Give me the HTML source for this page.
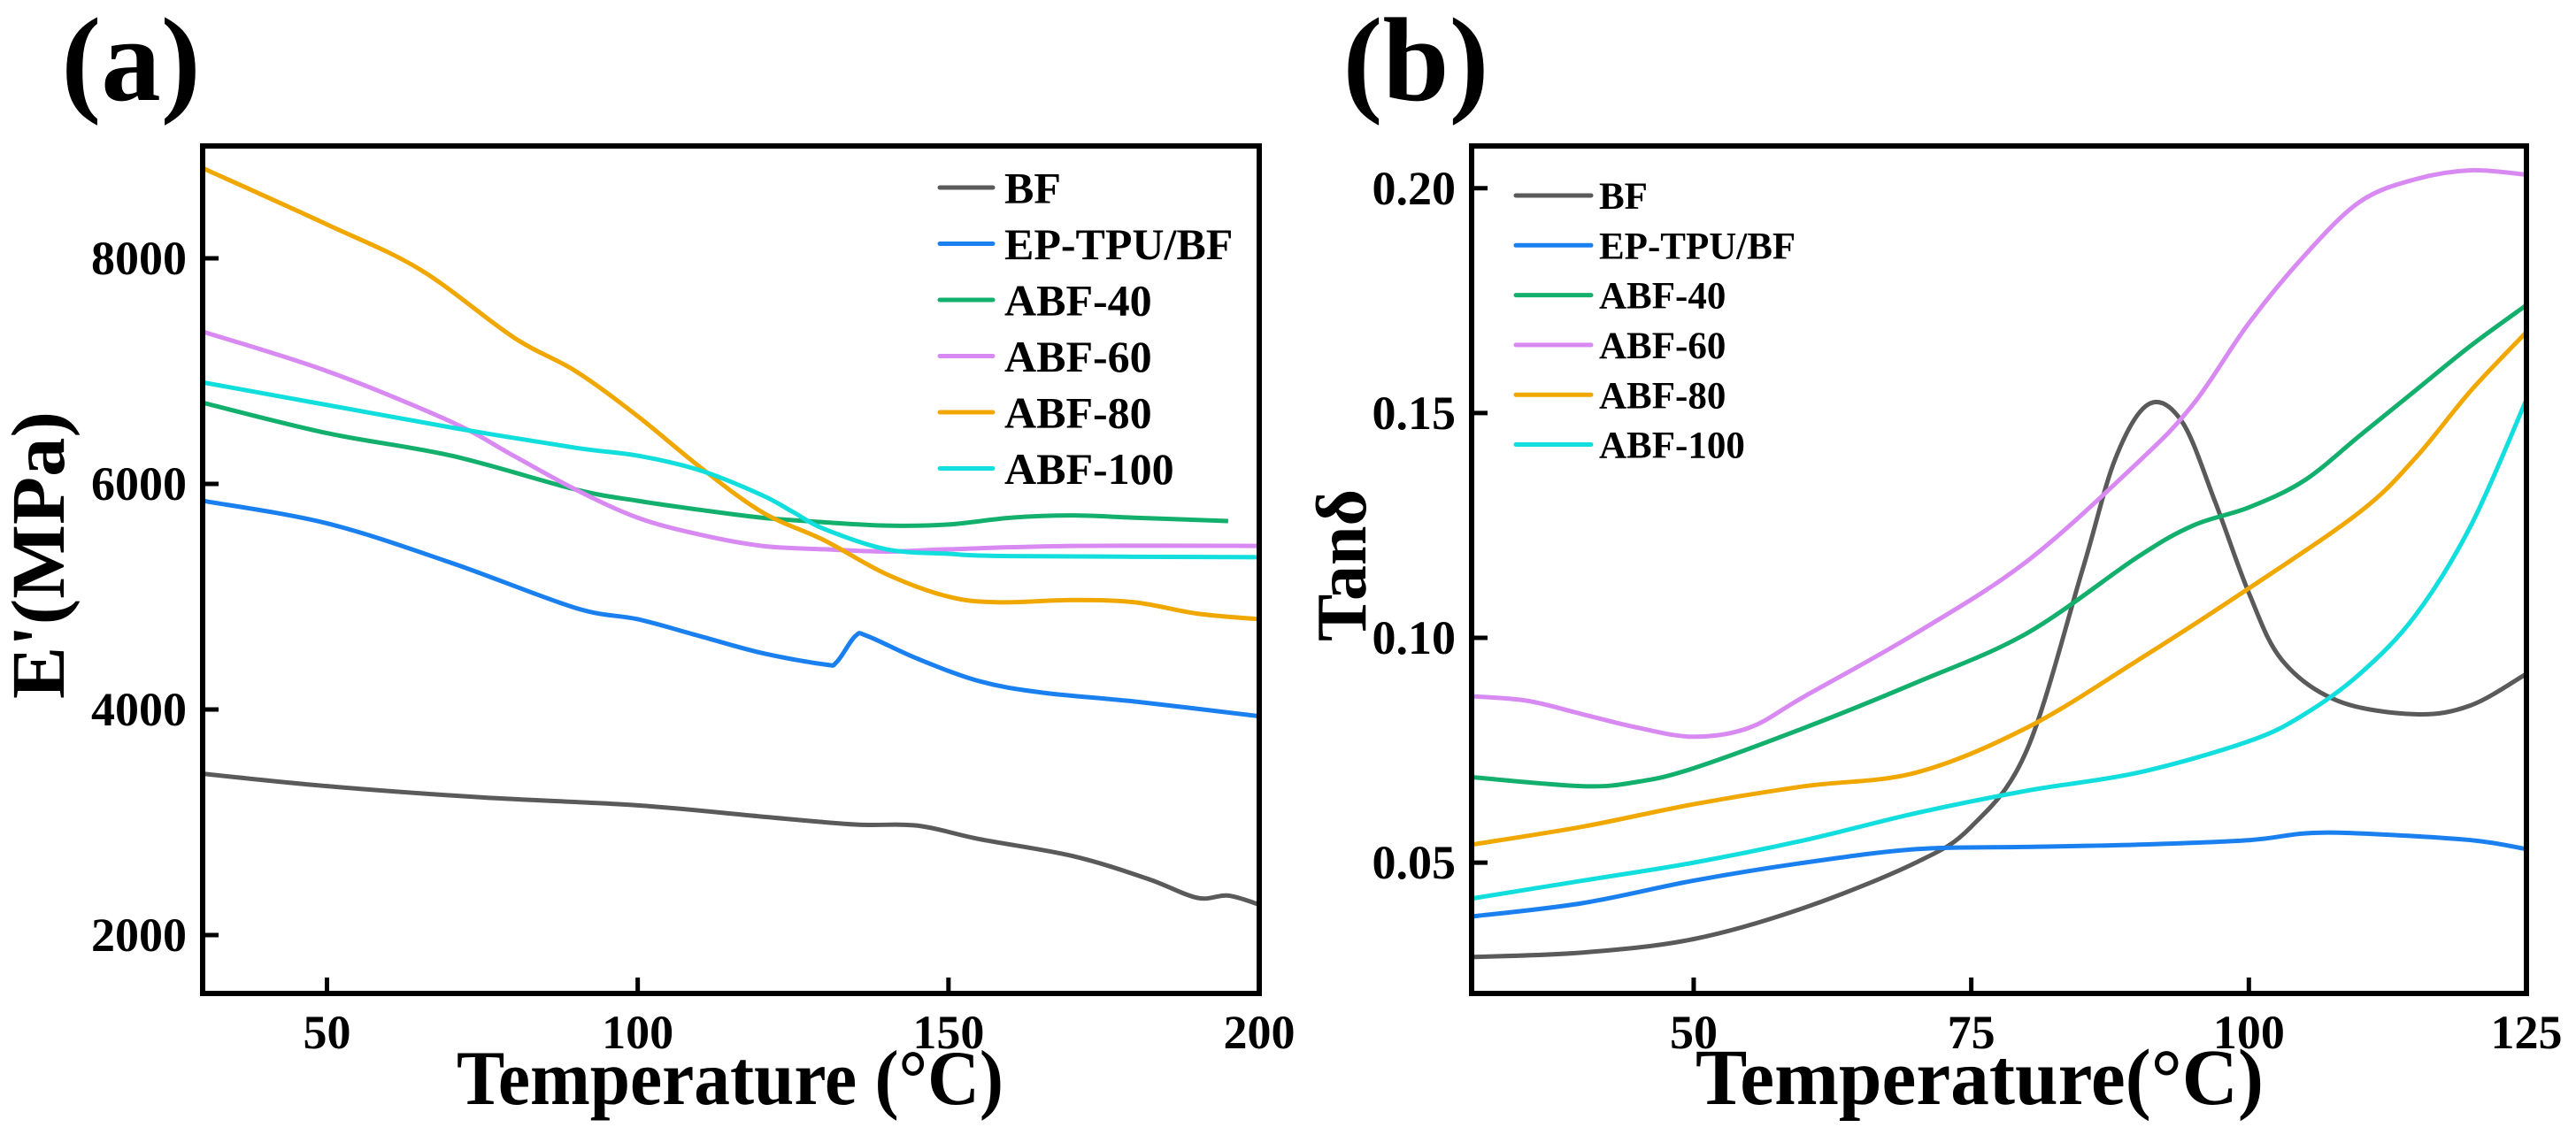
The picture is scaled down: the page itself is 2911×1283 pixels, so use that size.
<!DOCTYPE html>
<html><head><meta charset="utf-8"><style>
html,body{margin:0;padding:0;background:#fff;}
svg{display:block;font-family:"Liberation Serif",serif;font-weight:bold;}
</style></head><body>
<svg id="fig" width="2911" height="1283" viewBox="0 0 2911 1283" xmlns="http://www.w3.org/2000/svg">
<text x="148" y="113" font-size="135" text-anchor="middle">(a)</text>
<text x="1600" y="113" font-size="135" text-anchor="middle">(b)</text>
<text x="516" y="1248" font-size="88" textLength="618" lengthAdjust="spacingAndGlyphs">Temperature (°C)</text>
<text x="1916" y="1248" font-size="90" textLength="642" lengthAdjust="spacingAndGlyphs">Temperature(°C)</text>
<text transform="translate(72,790) rotate(-90)" font-size="86" textLength="325" lengthAdjust="spacingAndGlyphs">E'(MPa)</text>
<text transform="translate(1543,725) rotate(-90)" font-size="80">Tanδ</text>
<g id="ga"></g>
<g id="gb"></g>
</svg>
<script>
const names = ["BF","EP-TPU/BF","ABF-40","ABF-60","ABF-80","ABF-100"];
const colors = ["#5a5a5a","#1a80f0","#12b06c","#d88af2","#f0a800","#12dede"];
// Panel (a) storage modulus
const aX_BF = [30,50,75,100,120,135,145,155,170,182,190,195,200];
const aY_BF = [3430,3320,3220,3150,3050,2980,2970,2850,2700,2500,2330,2350,2270];
const aX_EP = [30,50,70,90,100,110,120,130,132,135,137,145,155,165,180,200];
const aY_EP = [5850,5650,5300,4900,4800,4650,4500,4400,4420,4650,4650,4450,4250,4150,4070,3940];
const aX_40 = [30,50,70,90,100,110,120,130,140,150,160,170,180,195];
const aY_40 = [6720,6450,6250,5950,5850,5770,5700,5660,5630,5640,5700,5720,5700,5670];
const aX_60 = [30,50,70,80,90,100,110,120,130,140,150,170,200];
const aY_60 = [7350,7000,6550,6250,5950,5700,5550,5450,5420,5400,5420,5450,5450];
const aX_80 = [30,50,65,80,90,100,110,120,130,140,150,158,170,180,190,200];
const aY_80 = [8800,8300,7900,7300,7000,6600,6150,5750,5500,5200,5000,4950,4970,4950,4850,4800];
const aX_100 = [30,50,70,90,100,110,120,125,130,140,150,160,200];
const aY_100 = [6900,6700,6500,6320,6250,6120,5900,5750,5600,5420,5380,5360,5350];
const aTicksX = [50,100,150,200];
const aTicksY = [2000,4000,6000,8000];
// Panel (b) tan delta
const bX_BF = [30,40,50,60,70,75,80,85,88,91,94,97,100,103,108,115,120,125];
const bY_BF = [0.029,0.030,0.033,0.040,0.050,0.058,0.075,0.115,0.140,0.152,0.148,0.130,0.110,0.095,0.086,0.083,0.085,0.092];
const bX_EP = [30,40,50,60,70,80,90,100,105,110,120,125];
const bY_EP = [0.038,0.041,0.046,0.050,0.053,0.0535,0.054,0.055,0.0565,0.0565,0.055,0.053];
const bX_40 = [30,40,45,50,60,70,80,90,95,100,105,110,115,120,125];
const bY_40 = [0.069,0.067,0.068,0.071,0.080,0.090,0.101,0.118,0.125,0.129,0.135,0.145,0.155,0.165,0.174];
const bX_60 = [30,35,40,45,50,55,60,70,80,90,95,100,105,110,115,120,125];
const bY_60 = [0.087,0.086,0.083,0.080,0.078,0.080,0.087,0.101,0.117,0.139,0.152,0.170,0.185,0.197,0.202,0.204,0.203];
const bX_80 = [30,40,50,60,70,80,90,100,110,115,120,125];
const bY_80 = [0.054,0.058,0.063,0.067,0.070,0.080,0.095,0.111,0.128,0.140,0.155,0.168];
const bX_100 = [30,40,50,60,70,80,90,100,105,110,115,120,125];
const bY_100 = [0.042,0.046,0.050,0.055,0.061,0.066,0.070,0.077,0.083,0.092,0.105,0.125,0.153];
const bTicksX = [50,75,100,125];
const bTicksY = [0.05,0.10,0.15,0.20];

const NS = "http://www.w3.org/2000/svg";
function mk(tag, attrs, parent){const e=document.createElementNS(NS,tag);for(const k in attrs)e.setAttribute(k,attrs[k]);parent.appendChild(e);return e;}
function smooth(pts){let d="M"+pts[0][0]+","+pts[0][1];for(let i=0;i<pts.length-1;i++){const p0=pts[Math.max(i-1,0)],p1=pts[i],p2=pts[i+1],p3=pts[Math.min(i+2,pts.length-1)];const c1=[p1[0]+(p2[0]-p0[0])/6,p1[1]+(p2[1]-p0[1])/6],c2=[p2[0]-(p3[0]-p1[0])/6,p2[1]-(p3[1]-p1[1])/6];d+=" C"+c1[0]+","+c1[1]+" "+c2[0]+","+c2[1]+" "+p2[0]+","+p2[1];}return d;}

function panel(g, L, R, T, B, xmin, xmax, ymin, ymax, xs, ys, tx, ty, fmt, leg, pfx){
  const sx=v=>L+(v-xmin)/(xmax-xmin)*(R-L), sy=v=>B-(v-ymin)/(ymax-ymin)*(B-T);
  for(let s=0;s<xs.length;s++){
    const p=mk("path",{d:smooth(xs[s].map((x,i)=>[sx(x),sy(ys[s][i])])),fill:"none",stroke:colors[s],"stroke-width":5,"stroke-linejoin":"round"},g);
    
    
  }
  const fr=mk("rect",{x:L,y:T,width:R-L,height:B-T,fill:"none",stroke:"#000","stroke-width":6},g);
  
  
  tx.forEach(v=>{
    const t=mk("line",{x1:sx(v),x2:sx(v),y1:B,y2:B-18,stroke:"#000","stroke-width":5},g);
    
    
    const l=mk("text",{x:sx(v),y:B+62,"font-size":54,"text-anchor":"middle"},g);l.textContent=v;
    
    
  });
  ty.forEach(v=>{
    const t=mk("line",{x1:L,x2:L+18,y1:sy(v),y2:sy(v),stroke:"#000","stroke-width":5},g);
    
    
    const l=mk("text",{x:L-18,y:sy(v)+18,"font-size":54,"text-anchor":"end"},g);l.textContent=fmt(v);
    
    
  });
  for(let s=0;s<names.length;s++){
    const y=leg.y0+s*leg.dy;
    const ln=mk("line",{x1:leg.x1,x2:leg.x2,y1:y,y2:y,stroke:colors[s],"stroke-width":5,"stroke-linecap":"round"},g);
    
    
    const tt=mk("text",{x:leg.tx,y:y+leg.fs*0.35,"font-size":leg.fs},g);tt.textContent=names[s];
    
    
  }
}
panel(document.getElementById("ga"),229,1423,165,1123,30,200,1482,8996,
  [aX_BF,aX_EP,aX_40,aX_60,aX_80,aX_100],[aY_BF,aY_EP,aY_40,aY_60,aY_80,aY_100],
  aTicksX,aTicksY,v=>String(v),{x1:1062,x2:1122,tx:1135,y0:212,dy:63.5,fs:50},"chart-a");
panel(document.getElementById("gb"),1663,2855,165,1123,30,125,0.0209,0.2094,
  [bX_BF,bX_EP,bX_40,bX_60,bX_80,bX_100],[bY_BF,bY_EP,bY_40,bY_60,bY_80,bY_100],
  bTicksX,bTicksY,v=>v.toFixed(2),{x1:1713,x2:1798,tx:1807,y0:221,dy:56.3,fs:43},"chart-b");
</script>
</body></html>
